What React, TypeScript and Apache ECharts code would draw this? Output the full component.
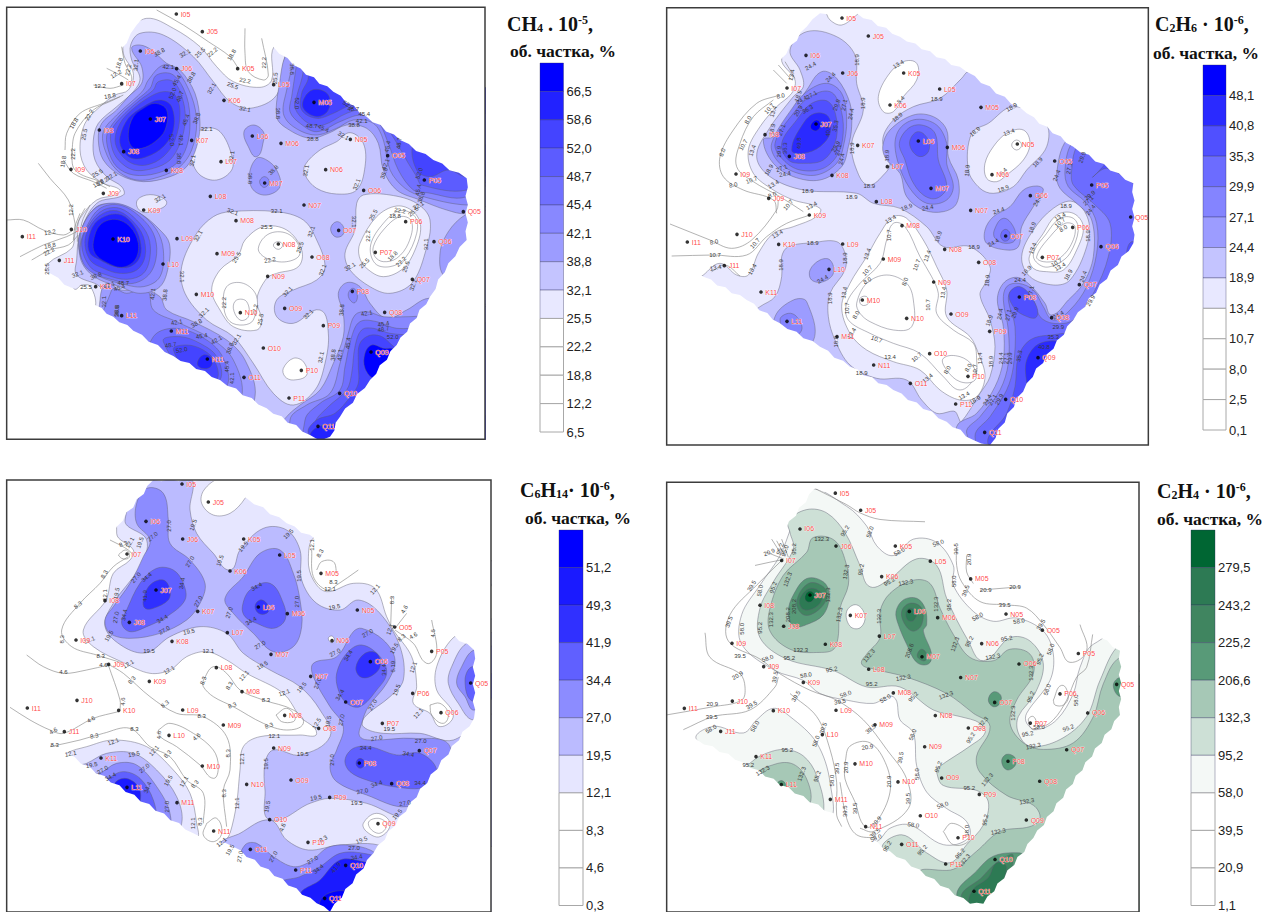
import React, { useEffect, useRef } from "react";
import * as echarts from "echarts";

type Band = [number, number[]];
type Lbl = [string, number, number, number];

const wellNames = ["I05","J05","K05","L05","M05","I06","J06","K06","L06","M06","N05","O05","P05","I07","J07","K07","L07","M07","N06","O06","Q05","I08","J08","K08","L08","N07","P06","I09","J09","K09","M08","N08","O07","Q06","I11","J10","K10","L09","M09","O08","P07","J11","L10","N09","Q07","K11","M10","P08","L11","N10","O09","Q08","P09","M11","O10","Q09","N11","P10","O11","P11","Q10","Q11"];

const ch4Wells = [529,42,607,95,713,206,821,254,942,307,421,153,530,206,672,301,757,408,843,430,1051,418,1163,467,1273,540,365,251,451,357,575,421,663,485,794,549,977,509,1091,571,1390,635,298,390,371,455,499,511,631,589,912,615,1217,665,213,508,310,580,431,630,708,662,835,732,1016,691,1302,725,67,710,214,688,339,717,531,716,651,761,936,771,1126,757,178,781,489,792,803,829,1237,838,287,860,589,883,1057,874,365,947,721,938,854,925,1154,937,970,977,514,993,790,1044,1113,1056,622,1077,904,1111,732,1132,867,1194,1019,1180,954,1279];
const c2h6Wells = [546,54,625,108,731,219,839,267,963,322,438,166,548,219,690,315,775,423,862,442,1072,432,1184,483,1295,555,381,264,468,372,593,436,682,500,813,565,996,524,1111,587,1412,651,315,404,388,469,516,526,649,605,932,631,1238,682,228,522,326,595,448,645,726,677,854,748,1037,708,1323,740,82,726,231,703,356,733,548,732,670,777,956,787,1147,772,193,797,507,808,821,846,1258,854,303,876,607,900,1078,891,381,964,740,955,873,942,1175,953,989,994,531,1010,809,1061,1134,1073,641,1095,924,1129,751,1150,887,1212,1037,1198,974,1297];
const c6h14Wells = [546,42,625,96,731,207,839,255,963,310,438,154,548,207,690,303,775,411,862,431,1072,420,1184,471,1295,544,381,252,468,360,593,424,682,488,813,553,996,512,1111,575,1412,639,315,392,388,457,516,514,649,593,932,619,1238,670,228,510,326,583,448,634,726,665,854,736,1037,696,1323,728,82,714,231,691,356,721,548,720,670,765,956,775,1147,760,193,785,507,796,821,834,1258,842,303,864,607,888,1078,879,381,952,740,943,873,930,1175,941,989,982,531,998,809,1049,1134,1061,641,1083,924,1117,751,1138,887,1200,1037,1186,974,1285];
const c2h4Wells = [526,70,602,122,706,231,811,277,932,331,420,179,528,231,665,324,748,430,833,449,1038,438,1147,487,1255,558,365,275,450,380,571,442,658,505,786,568,965,528,1077,590,1370,652,300,411,371,475,496,530,626,606,902,631,1200,681,216,527,311,598,430,646,700,678,826,747,1004,707,1283,739,73,725,217,703,340,732,528,731,645,775,925,785,1111,770,182,795,487,805,794,842,1220,851,288,872,585,894,1044,886,364,957,714,949,845,937,1139,947,958,987,511,1002,781,1052,1099,1065,617,1085,894,1119,725,1139,857,1199,1005,1185,942,1282];

const ch4Legend = ["66,5","58,6","52,0","48,7","45,4","42,1","38,8","32,1","25,5","22,2","18,8","12,2","6,5"];
const c2h6Legend = ["48,1","40,8","35,3","29,9","27,1","24,4","18,9","13,4","10,7","8,0","2,5","0,1"];
const c6h14Legend = ["51,2","49,3","41,9","34,4","27,0","19,5","12,1","8,3","4,6","0,3"];
const c2h4Legend = ["279,5","243,2","225,2","206,6","132,3","95,2","58,0","39,5","20,9","1,1"];

const ch4Palette = ["#ffffff","#e8e8ff","#c4c4ff","#9c9cff","#8888ff","#7070ff","#5c5cff","#4444ff","#2222ff","#0000ff"];
const c2h6Palette = ["#ffffff","#e8e8ff","#c4c4ff","#9c9cff","#8484ff","#6c6cff","#5050ff","#2a2aff","#0000ff"];
const c6h14Palette = ["#ffffff","#e6e6ff","#bbbbff","#8c8cff","#6060ff","#3030ff","#1a1aff","#0000ff"];
const c2h4Palette = ["#ffffff","#f4f8f6","#cde0d6","#a6c8b6","#589a78","#408560","#2d7a54","#006633"];

const ch4Domain = [465,28,820,140,880,195,1000,275,1100,350,1200,420,1300,480,1400,535,1400,720,1345,790,1290,890,1190,1035,1110,1140,1020,1250,990,1310,960,1322,930,1305,800,1225,660,1140,520,1068,400,992,340,950,285,915,150,820,20,770,20,600,120,490,250,300,380,130,410,75];
const c2h6Domain = [480,40,590,40,720,110,920,215,1100,340,1240,440,1420,550,1420,730,1240,960,1100,1150,990,1335,940,1320,860,1265,700,1170,570,1100,480,1040,360,970,260,900,130,830,30,770,30,670,290,330,360,180,440,80];
const c6h14Domain = [460,30,660,30,740,85,860,160,950,210,1070,300,1250,420,1422,540,1422,745,1120,1150,990,1325,950,1300,700,1130,580,1090,200,850,30,710,350,170];
const c2h4Domain = [465,55,800,155,1000,280,1200,420,1380,550,1380,745,1120,1120,970,1320,930,1320,690,1160,540,1060,250,890,110,820,22,750,22,700,300,280];

const ch4Bands: Band[] = [
[1,[440,55,520,85,600,140,650,200,700,245,780,262,815,240,822,140,900,100,1550,400,1550,1400,800,1400,240,960,285,925,272,860,245,855,225,868,140,830,145,790,215,745,225,700,240,655,290,600,345,585,360,570,310,550,260,510,240,450,255,370,300,320,345,285,385,270,400,220,370,160,380,100]],
[2,[392,135,420,100,490,105,580,170,640,245,690,305,750,325,830,285,855,170,900,100,1550,400,1550,1400,800,1400,330,1000,310,900,300,860,230,825,230,780,240,700,290,610,370,585,365,560,320,530,285,480,280,420,295,370,350,320,400,275,420,235,395,180]],
[1,[570,420,615,385,660,395,695,465,695,510,650,540,600,525,575,480]],
[1,[410,605,440,585,480,590,500,610,470,630,425,635]],
[1,[915,495,960,450,1010,425,1050,398,1090,430,1095,500,1070,570,1010,582,950,565,915,525]],
[1,[1070,610,1090,585,1170,585,1250,610,1290,660,1275,760,1235,850,1170,880,1110,860,1050,810,1035,760,1065,690]],
[0,[1080,730,1130,650,1190,618,1240,635,1262,680,1245,750,1210,805,1150,830,1100,805,1078,770]],
[0,[1112,735,1150,670,1200,632,1245,650,1250,700,1215,775,1170,800,1125,790]],
[0,[1120,740,1150,690,1200,650,1235,665,1225,730,1190,775,1150,785,1125,770]],
[1,[690,635,830,635,910,660,950,720,975,800,950,840,880,870,830,900,830,950,880,970,960,930,985,1000,975,1090,945,1170,880,1215,820,1180,760,1090,700,1010,620,960,555,880,545,800,590,700,640,650]],
[0,[735,720,790,680,860,690,905,750,895,800,830,820,800,835,770,900,785,960,770,990,700,980,660,930,635,870,660,810,715,765]],
[0,[775,745,810,700,870,705,900,760,860,785,800,775]],
[0,[672,925,680,860,730,850,770,890,760,960,730,975,690,965]],
[0,[700,925,710,900,740,905,745,950,720,960]],
[0,[820,735,835,725,848,735,835,748]],
[0,[850,1105,880,1075,910,1085,920,1125,880,1140,855,1130]],
[3,[732,395,760,375,790,395,790,425,770,470,745,440]],
[3,[770,475,800,480,830,510,840,560,800,585,760,570,748,525]],
[4,[780,540,795,530,808,545,795,562,782,555]],
[3,[992,685,1010,665,1030,680,1028,705,1005,710]],
[3,[1285,895,1220,930,1160,955,1110,910,1080,860,1040,848,1015,880,1030,940,1030,1010,1000,1090,960,1170,900,1215,860,1250,830,1300,900,1400,1500,1400,1500,900]],
[4,[1045,880,1060,865,1072,885,1065,908,1050,900]],
[3,[1395,645,1345,695,1320,760,1335,830,1500,900,1500,600]],
[4,[1230,950,1150,950,1100,935,1065,945,1045,1000,1020,1090,990,1180,920,1215,870,1260,900,1400,1500,1400,1500,950]],
[5,[1190,985,1130,965,1080,965,1055,1010,1035,1100,1020,1170,960,1210,915,1260,930,1400,1500,1400,1500,1000]],
[6,[1170,1000,1120,985,1085,990,1065,1040,1055,1120,1040,1170,985,1220,945,1270,950,1400,1500,1400,1500,1050]],
[7,[1160,1020,1115,1005,1080,1030,1075,1090,1075,1150,1055,1185,1005,1240,950,1260,925,1300,1000,1400,1500,1400]],
[8,[930,1305,955,1280,1000,1272,1040,1260,1000,1400,930,1400]],
[9,[1095,1060,1115,1035,1150,1045,1180,1050,1150,1100,1125,1135,1095,1105]],
[3,[855,170,840,240,830,350,860,385,930,415,985,400,1040,375,1100,385,1135,430,1150,510,1190,570,1260,600,1340,630,1400,640,1500,600,1500,300,900,100]],
[4,[880,185,860,270,850,340,880,380,945,405,1010,385,1060,360,1120,370,1150,420,1170,510,1215,565,1270,590,1400,615,1500,600,1500,300,900,100]],
[5,[890,190,875,290,870,335,900,370,950,395,1020,365,1080,345,1130,360,1165,430,1195,510,1240,570,1280,578,1400,590,1500,500,1500,300,900,100]],
[6,[910,210,890,290,885,325,925,370,970,375,1040,340,1090,330,1145,365,1185,420,1225,490,1250,530,1265,555,1400,570,1500,500,1500,300,900,100]],
[7,[925,230,905,280,905,330,950,355,1000,340,1040,320,1100,300,1500,300,900,100]],
[7,[1240,430,1250,510,1290,530,1345,510,1400,530,1500,500,1400,400,1300,380]],
[8,[915,290,945,268,985,285,985,330,950,350,910,325]],
[3,[395,145,420,135,455,150,500,190,540,210,585,280,600,370,590,440,560,500,510,530,430,545,360,525,310,480,295,420,305,370,350,330,385,290,425,250,425,200]],
[4,[445,240,490,195,530,210,575,290,590,370,575,450,540,500,480,530,410,540,350,510,315,450,310,395,350,345,400,300,430,270]],
[5,[470,225,520,225,560,290,570,370,560,440,530,490,470,520,400,525,350,500,325,450,322,400,360,345,410,300,450,265]],
[6,[475,245,520,245,550,305,555,370,540,430,510,480,460,505,400,510,355,480,335,440,335,390,375,340,420,300,460,270]],
[7,[490,275,525,285,540,340,525,420,490,470,440,495,395,490,360,460,345,420,360,370,395,330,450,290]],
[8,[480,300,515,320,520,390,490,440,440,470,395,475,365,445,360,410,385,355,430,320]],
[9,[465,310,500,330,495,390,465,425,425,445,395,440,385,400,400,350,430,325]],
[3,[320,850,360,870,430,870,480,890,500,930,580,965,680,1020,735,1080,765,1190,700,1300,300,1100,300,900]],
[4,[335,870,380,880,440,870,460,930,530,965,640,1020,700,1080,725,1190,650,1300,300,1100]],
[5,[460,1010,530,985,620,1020,670,1075,680,1160,600,1200,450,1100]],
[6,[490,1025,540,1010,600,1030,650,1070,660,1140,600,1160]],
[7,[520,1050,560,1035,610,1050,645,1085,650,1140,600,1150]],
[8,[592,1090,610,1065,635,1075,632,1100,605,1105]],
[3,[240,770,240,700,290,620,350,615,420,640,480,690,508,730,505,800,480,860,420,880,360,860,300,840,260,810]],
[4,[240,760,240,700,285,625,350,610,420,640,470,690,490,750,480,830,430,860,360,850,300,830,260,800]],
[5,[240,740,260,680,300,625,360,615,420,650,460,700,470,760,450,820,400,850,340,840,280,820,250,790]],
[6,[245,730,270,670,310,630,360,625,410,660,445,710,450,770,430,820,380,838,320,825,270,800]],
[7,[255,720,280,665,320,635,360,635,400,665,430,710,435,770,410,810,360,820,310,805,270,780]],
[8,[265,720,285,670,325,645,365,645,400,675,420,720,420,770,390,800,345,800,300,780,270,760]],
[9,[280,725,300,675,345,658,390,680,415,730,405,780,365,802,315,785,285,760]],
];
const ch4Lines: number[][] = [
[470,30,550,75,625,125,690,170,715,205],
[735,85,735,160,745,215,790,240,805,225,785,115],
[365,140,375,190,395,230,390,260],
[320,205,360,225,385,240],
[280,255,330,265,370,255],
[195,450,200,400,240,340,310,310,360,290],
[190,480,220,520,280,545,320,565],
[215,470,225,400,280,330,340,300,370,285],
[215,450,225,510,300,545,330,560],
[115,490,150,535,205,600,225,670,225,690],
[20,660,70,660,130,690,190,705,220,690],
[60,770,130,735,200,710,230,695],
[95,780,150,750,205,735,235,705],
[240,640,225,680,220,720],
[255,625,235,665,232,725],
[270,615,245,670,240,740],
];
const ch4Labels: Lbl[] = [["32.1",555,160,-30],["25.5",600,158,-45],["22.2",637,157,-40],["18.8",695,165,-60],["22.2",793,188,-90],["25.5",826,235,-85],["22.2",735,242,10],["25.5",698,257,20],["32.1",635,265,-60],["32.1",735,327,10],["38.8",835,340,90],["52.0",890,310,90],["38.8",875,207,90],["38.8",590,355,-70],["45.4",558,360,-70],["52.0",515,420,85],["42.1",543,420,90],["38.8",537,475,90],["32.1",620,388,0],["32.1",695,470,-80],["32.1",578,482,-80],["38.8",820,510,-45],["38.8",750,535,90],["38.8",938,418,0],["45.4",970,385,25],["48.7",935,377,0],["38.8",1062,375,0],["42.1",1085,362,0],["45.4",1093,343,0],["48.7",1060,328,0],["52.0",1045,315,30],["32.1",1030,407,30],["32.1",918,512,-80],["32.1",1070,553,-70],["38.8",1152,520,-70],["42.1",1157,493,-70],["45.4",1163,440,-80],["48.7",1197,430,-85],["52.0",1258,520,-70],["45.4",1255,570,-80],["38.8",1264,592,-70],["32.1",1255,617,-30],["32.1",1062,665,90],["25.5",1120,645,-60],["22.2",1200,632,10],["25.5",1240,635,-40],["18.8",1185,648,0],["22.2",1104,708,-90],["25.5",1093,790,-45],["18.8",1178,768,-45],["22.2",1203,785,-45],["25.5",1218,800,-70],["32.1",1050,800,-30],["32.1",1277,733,-90],["32.1",1240,855,-70],["32.1",698,635,20],["32.1",830,633,0],["25.5",800,682,0],["25.5",900,742,-70],["22.2",810,780,-10],["32.1",934,695,-70],["32.1",968,810,-70],["32.1",863,875,-45],["25.5",710,772,-60],["32.1",595,708,-60],["32.1",547,830,90],["22.2",672,908,-90],["22.2",765,930,-80],["25.5",782,958,-80],["32.1",612,938,-45],["32.1",925,943,-45],["32.1",710,1018,-60],["32.1",963,1072,-80],["38.8",1025,930,-85],["42.1",1100,940,-10],["45.4",1150,972,-10],["48.7",1150,988,-10],["52.0",1178,1010,0],["38.8",1000,1065,-85],["42.1",1020,1065,-85],["45.4",1045,1030,-85],["42.1",458,882,-85],["38.8",495,885,-85],["38.8",350,932,-85],["42.1",530,967,-10],["38.8",590,970,-30],["45.4",605,1008,-10],["42.1",650,1020,-30],["38.8",690,1045,-70],["45.4",680,1100,-90],["42.1",697,1135,-90],["52.0",545,1050,-10],["48.7",512,1035,-10],["18.8",358,190,-70],["22.2",385,210,-80],["32.1",408,195,-85],["12.2",348,222,-30],["12.2",300,257,0],["18.8",330,288,-10],["18.8",222,370,-60],["22.2",268,345,-60],["25.5",253,403,-80],["22.2",220,462,-90],["18.8",190,485,-80],["25.5",292,520,-30],["22.2",308,545,-30],["18.8",295,550,-30],["32.1",335,528,-30],["12.2",213,630,-90],["12.2",150,697,-10],["18.8",150,737,-10],["22.2",147,755,-30],["25.5",142,807,-90],["32.1",233,822,-20],["25.5",258,860,0],["38.8",288,828,-20],["42.1",328,855,-20],["45.4",358,863,-20],["48.7",370,850,0],["32.1",312,905,-90],["38.8",350,935,-90],["32.1",480,595,-30],["42.1",505,200,0],["45.4",530,242,-60],["52.0",518,280,-70],["48.7",540,290,-70],["38.8",574,232,-60],["38.8",478,157,-30]];

const c2h6Bands: Band[] = [
[1,[440,30,490,30,510,60,545,75,590,45,620,20,1600,400,1600,1500,800,1500,100,850,130,825,180,790,230,825,265,825,295,760,340,700,400,680,470,650,480,625,400,600,340,570,280,520,265,450,300,380,350,320,395,280,405,240,365,175]],
[0,[655,290,685,225,730,185,770,190,770,240,730,290,700,335,670,335]],
[2,[390,150,440,95,530,110,585,165,590,250,610,330,575,430,590,510,625,555,675,520,690,490,668,420,700,360,760,320,840,295,905,235,925,215,1100,200,1600,400,1600,1500,900,1500,860,1290,900,1270,960,1180,990,1130,1005,1040,990,960,960,885,975,850,990,800,930,740,850,740,800,680,720,625,640,610,590,580,430,570,330,530,290,470,325,390,400,290,430,260,420,210]],
[1,[935,400,985,370,1060,320,1155,365,1160,440,1100,510,1060,560,1000,580,960,565,925,510]],
[0,[975,490,1000,440,1040,400,1090,390,1110,430,1090,480,1040,525,1010,545,980,535]],
[0,[1055,435,1070,420,1085,435,1070,450]],
[1,[1085,770,1120,690,1180,625,1240,605,1285,660,1280,740,1230,840,1180,855,1110,830]],
[0,[1108,770,1150,700,1190,645,1240,640,1270,680,1250,750,1210,810,1160,815,1120,805]],
[0,[1120,765,1160,700,1200,655,1240,655,1255,690,1230,760,1195,790,1150,800]],
[0,[1130,770,1170,710,1215,670,1245,680,1230,740,1190,780,1150,785]],
[2,[365,770,385,740,460,728,530,725,555,760,555,810,510,880,505,950,525,1020,570,1095,650,1135,740,1140,785,1200,830,1240,890,1240,900,1400,600,1400,200,1000,300,920,345,890,365,830]],
[0,[660,700,700,650,740,655,790,720,830,800,860,870,860,950,930,1010,955,1060,975,1130,950,1190,900,1200,840,1170,780,1110,700,1085,620,1050,570,1000,545,920,570,850,620,770]],
[0,[600,850,660,790,680,720,700,670,735,680,780,770,815,830,835,880,830,940,880,990,940,1030,950,1080,945,1130,900,1170,850,1130,780,1060,700,1030,630,1000,565,960,560,910]],
[0,[590,910,620,850,680,825,740,850,760,900,755,980,700,990,630,965,600,940]],
[0,[850,1075,900,1070,940,1100,945,1140,900,1145,860,1110]],
[0,[600,895,620,890,625,910,605,915]],
[3,[450,810,480,780,510,780,520,820,490,845,455,840]],
[3,[345,950,400,900,440,905,455,1030,350,1030]],
[4,[360,960,385,940,410,950,425,990,390,1010]],
[3,[975,690,1000,650,1050,620,1090,570,1130,558,1150,570,1120,620,1085,680,1075,740,1040,750,980,730]],
[4,[1003,690,1030,655,1060,680,1065,720,1035,730,1005,715]],
[5,[1022,705,1035,688,1050,700,1045,720,1030,722]],
[3,[668,440,690,390,760,345,820,350,860,390,865,470,895,540,890,610,850,635,790,630,740,590,720,520,680,480]],
[4,[705,440,720,385,770,358,830,375,860,430,860,490,880,560,860,600,810,612,770,590,730,530]],
[5,[718,430,745,385,785,375,825,400,835,480,860,560,830,595,790,585,755,540,735,480]],
[6,[750,420,775,395,805,420,805,455,780,470,755,450]],
[3,[340,410,420,300,440,270,485,215,530,235,570,310,575,380,565,440,545,500,480,540,400,530,340,490,310,420]],
[4,[335,430,400,320,440,275,500,250,545,280,560,360,550,440,530,490,470,525,400,515,350,480]],
[5,[345,430,400,340,450,290,510,275,540,320,550,390,535,460,490,505,420,510,370,480]],
[6,[365,430,410,360,455,310,505,305,530,360,525,430,490,480,430,490,385,480]],
[7,[395,450,430,370,465,340,505,350,510,400,480,440,430,460]],
[8,[452,375,470,360,482,375,470,392,455,388]],
[3,[1220,420,1190,520,1200,565,1250,610,1295,660,1300,770,1270,850,1225,900,1175,945,1155,910,1110,855,1070,832,1030,850,1012,900,1030,980,1030,1080,1005,1160,950,1240,890,1280,900,1400,1500,1400,1600,1000,1600,500,1300,380]],
[4,[1235,430,1215,510,1225,560,1280,610,1310,670,1310,760,1280,860,1230,930,1180,960,1150,920,1120,870,1075,850,1040,860,1030,900,1045,990,1045,1090,1020,1170,960,1250,920,1300,1000,1400,1500,1400,1600,1000,1600,500,1300,380]],
[5,[1250,440,1235,510,1240,555,1300,610,1350,670,1345,770,1300,880,1240,960,1180,970,1140,950,1120,900,1085,865,1055,870,1045,900,1065,980,1060,1100,1040,1170,990,1250,945,1310,1000,1400,1500,1400,1600,1000,1600,500,1300,390]],
[6,[1300,530,1340,505,1420,550,1500,600,1500,500,1400,450]],
[6,[1240,1010,1175,1005,1110,1020,1075,1070,1065,1160,1040,1240,985,1335,1100,1400,1300,1200]],
[7,[1215,1030,1140,1030,1100,1080,1100,1150,1110,1190,1300,1100]],
[6,[1420,725,1400,760,1420,780,1500,780]],
[6,[1048,880,1080,860,1120,900,1130,950,1090,945,1060,920]],
];
const c2h6Lines: number[][] = [
[30,672,150,720,215,745,275,720,350,630,355,600],
[35,768,160,765,260,765,320,710,380,670,450,645],
[360,285,290,310,220,390,180,470,190,530,250,570,340,600,350,640],
[340,300,280,350,240,430,230,500,280,545,360,590,430,635],
[340,210,380,250],
[355,195,395,240],
[375,185,405,235],
[155,815,195,795,240,828],
];
const c2h6Labels: Lbl[] = [["18.9",590,180,-90],["18.9",608,310,-90],["24.4",452,198,-30],["24.4",512,232,-45],["13.4",715,193,-30],["8.4",722,300,-45],["18.9",830,298,0],["18.9",712,352,-40],["18.9",1055,322,-30],["18.9",945,395,-40],["13.4",1047,397,-20],["8.4",1030,515,-45],["18.9",1133,487,-45],["18.9",922,512,-85],["18.9",1030,566,-20],["24.4",1190,527,-70],["27.1",1228,505,-80],["29.9",1267,472,-70],["29.9",1290,586,-40],["27.1",1285,602,-40],["24.4",1292,630,-50],["18.9",1218,617,0],["13.4",1200,650,-30],["10.7",1200,668,-40],["8.0",1210,685,-30],["18.9",1117,683,-70],["13.4",1118,745,-70],["18.9",1283,708,-90],["13.4",1200,800,-30],["10.7",1190,788,-30],["18.9",1100,812,-45],["18.9",1225,825,-60],["24.4",1270,830,-70],["29.9",1292,902,-60],["24.4",1195,945,-30],["29.9",1195,980,0],["35.3",1180,1012,0],["40.8",1152,1040,0],["24.4",1080,840,0],["27.1",1113,875,-80],["29.9",1065,938,-70],["27.1",1045,945,-80],["24.4",1020,942,-80],["18.9",988,962,-70],["18.9",982,842,-85],["18.9",942,742,0],["18.9",835,710,-70],["24.4",1000,728,-30],["24.4",1016,632,-20],["24.4",1133,603,-60],["24.4",803,623,-10],["18.9",740,622,-20],["18.9",628,558,0],["18.9",680,467,-90],["18.9",575,445,-90],["18.9",575,590,0],["18.9",443,574,0],["18.9",327,510,-60],["24.4",375,522,-10],["27.1",365,505,-20],["24.4",545,477,-80],["27.1",535,450,-80],["29.9",528,440,-60],["35.3",527,378,-80],["24.4",573,342,-80],["27.1",553,315,-80],["29.9",530,315,-70],["49.8",417,430,-90],["40.8",503,393,-90],["36.3",375,445,-90],["29.9",357,455,-90],["27.1",365,390,-70],["20.9",415,333,-60],["36.3",443,328,-30],["27.1",455,285,-30],["24.4",425,300,-30],["18.9",415,288,-70],["13.4",395,225,-80],["8.0",362,288,-10],["10.7",328,326,-50],["13.4",340,335,-70],["8.0",264,360,-60],["10.7",250,435,-60],["13.4",277,452,-70],["8.0",187,457,-70],["18.9",337,388,-80],["10.7",275,540,-20],["8.0",220,555,-10],["13.4",340,553,-30],["8.0",337,585,-20],["10.7",385,615,-50],["13.4",455,617,-30],["13.4",352,702,-30],["18.9",458,730,0],["10.7",285,730,-50],["8.0",162,726,-10],["10.7",165,765,0],["13.4",167,803,-10],["13.4",277,808,-60],["18.9",363,795,-90],["18.9",555,775,-90],["24.4",488,838,-30],["18.9",510,895,-90],["13.4",692,658,-30],["10.7",686,706,-90],["13.4",622,762,-70],["10.7",770,795,-70],["13.4",802,768,-70],["10.7",622,812,-45],["8.0",622,842,-30],["8.0",735,845,-70],["13.4",850,878,-80],["10.7",805,915,-90],["13.4",553,878,-80],["10.7",562,925,-90],["8.0",588,945,-60],["13.4",575,1000,-60],["10.7",650,1018,20],["18.9",527,1025,-90],["13.4",690,1070,0],["10.7",770,1072,-40],["13.4",803,1135,-40],["18.9",605,1118,0],["13.4",912,1187,-30],["18.9",945,1200,-30],["13.4",960,1075,-90],["10.7",945,1110,-90],["8.0",925,1103,-60],["8.0",862,1110,-60],["18.9",993,1085,-90],["24.4",1022,1075,-90],["27.1",1037,1075,-90],["29.9",1050,1075,-90],["35.3",1078,1068,-80],["24.4",982,1200,-60],["27.1",998,1200,-60],["29.9",1018,1198,-60]];

const c6h14Bands: Band[] = [
[1,[350,190,400,240,390,270,340,310,318,390,250,480,280,530,375,580,450,610,510,600,560,560,620,545,680,570,740,610,850,670,900,740,950,790,900,795,780,800,730,830,720,900,710,1000,690,1090,670,1130,700,1400,1500,1400,1550,400,1000,0,400,0]],
[1,[200,850,260,830,340,810,440,830,520,900,570,970,590,1060,590,1110,500,1150,150,900]],
[0,[945,200,925,270,940,330,980,365,1060,340,1125,355,1160,440,1180,480,1235,560,1250,650,1240,700,1290,730,1320,770,1360,735,1310,660,1310,590,1358,505,1500,400,1200,100]],
[0,[660,25,612,60,605,100,640,135,690,130,735,85,760,25]],
[2,[460,20,570,20,570,120,590,190,640,250,690,300,720,240,790,175,860,180,900,240,905,330,950,400,1020,420,1075,390,1140,430,1200,530,1210,630,1170,680,1095,740,1090,770,1150,790,1260,790,1360,810,1550,700,1550,1100,1210,1045,1100,1000,990,985,930,1000,810,1050,795,960,795,880,820,840,900,855,990,800,960,720,900,650,810,600,730,550,680,490,600,470,510,500,440,548,370,530,315,470,340,400,420,290,440,210,375,150]],
[2,[810,1050,860,1110,925,1140,1020,1125,1150,1130,1200,1200,1000,1400,800,1400,660,1130,720,1090]],
[2,[1400,520,1355,590,1345,640,1375,700,1422,750,1500,700,1500,500]],
[3,[1422,540,1385,590,1370,640,1395,680,1424,720,1500,650,1500,540]],
[4,[1422,590,1395,630,1422,695,1500,650]],
[2,[260,880,320,850,400,850,470,900,530,980,545,1060,500,1130,200,900]],
[3,[295,910,350,880,410,885,470,950,510,1030,500,1100,250,900]],
[4,[325,925,370,905,420,925,460,990,460,1040,300,950]],
[6,[345,945,375,925,415,950,420,995,400,1010]],
[3,[720,1180,735,1125,770,1120,820,1160,880,1190,930,1175,990,1130,1080,1130,1140,1160,1200,1250,1000,1400,800,1300]],
[4,[830,1245,900,1220,960,1190,1020,1150,1090,1150,1130,1170,1050,1300,980,1400,850,1300]],
[6,[900,1280,960,1230,1020,1170,1090,1175,1110,1185,1040,1300,980,1400]],
[7,[955,1320,965,1285,1000,1265,1040,1270,1020,1320,1000,1400,950,1400]],
[3,[410,100,440,55,490,70,505,150,510,220,570,270,615,340,600,400,560,450,480,490,390,505,330,490,315,450,340,410,390,340,430,260,450,210,410,160]],
[4,[380,420,420,340,470,295,520,300,550,340,555,390,500,440,440,470,390,485,365,460]],
[5,[430,390,450,345,490,330,510,360,505,390,460,415,435,415]],
[3,[675,385,730,320,780,250,840,240,880,310,900,390,905,470,880,530,820,545,760,490,700,430]],
[4,[727,410,750,360,810,340,850,400,855,450,820,475,770,460,735,440]],
[5,[765,410,780,390,800,400,805,425,780,432]],
[3,[940,580,1010,560,1060,485,1085,475,1150,510,1185,570,1160,640,1105,710,1085,760,1080,800,1120,810,1240,805,1350,830,1300,950,1220,1010,1100,975,1010,935,990,890,1010,840,1030,770,990,710,940,620]],
[4,[1010,610,1040,550,1085,525,1140,560,1160,610,1130,660,1080,710,1040,700,1015,660]],
[5,[1068,590,1095,550,1130,550,1140,590,1110,620,1080,620]],
[4,[1035,870,1060,835,1110,830,1190,855,1260,850,1310,900,1280,950,1180,950,1100,930,1050,905]],
[5,[1068,880,1080,865,1095,880,1080,895]],
[0,[985,505,995,498,1003,508,995,518]],
[0,[1090,1060,1130,1030,1170,1060,1140,1100,1100,1085]],
[0,[1105,1060,1135,1045,1160,1065,1135,1090]],
];
const c6h14Lines: number[][] = [
[355,255,375,240,388,250,385,265,365,265,355,255],
[330,210,360,225,385,240,400,255],
[385,260,340,290,300,340,240,400,185,480,215,530,290,555,370,580],
[320,580,370,610,450,680,530,730,610,740,680,800,690,900,670,960,680,1070],
[80,555,130,590,190,610,260,600,325,585],
[325,585,360,690,360,722],
[30,712,90,750,150,780,190,790,280,745,355,725],
[150,830,240,810,310,790,390,775,450,830,510,860,560,930,610,970,610,1060],
[475,780,510,760,580,790,640,840,655,890,640,925,600,885,530,830,480,800,475,780],
[610,630,640,590,680,610,720,660,790,690,880,720,910,760,860,780,790,760,700,710,640,680,610,650,610,630],
[828,735,860,715,885,740,880,755,845,755,828,735],
[620,1060,650,1045,665,1090,640,1115,610,1095,620,1060],
[935,240,940,320,980,360,1010,345,1075,300],
[950,300,965,275,1000,275,1010,310],
[1290,705,1320,700,1345,730,1330,760,1295,735,1290,705],
[1175,380,1172,470],
[1220,430,1185,475],
[1185,480,1240,520,1280,580,1310,550,1295,450],
];
const c6h14Labels: Lbl[] = [["19.5",580,165,-70],["27.0",507,168,-90],["27.0",458,200,-40],["19.5",420,218,-70],["12.1",390,218,-60],["8.3",370,222,-20],["27.0",570,275,-60],["19.5",660,272,-70],["19.5",730,230,-50],["19.5",865,192,-45],["12.1",937,225,-90],["8.3",960,250,-60],["8.3",1000,335,0],["12.1",990,357,0],["12.1",1125,358,-50],["19.5",897,318,-90],["27.0",890,395,-90],["19.5",1003,411,-10],["8.3",1175,390,-90],["4.6",1213,418,-60],["12.1",1170,478,-70],["8.3",1205,503,-40],["4.6",1240,497,-30],["4.6",1300,490,-90],["19.5",1183,535,-60],["12.1",1240,592,-70],["27.0",1103,490,-30],["27.0",1005,548,-30],["34.4",1045,557,-60],["34.4",1152,600,-90],["6.19",1178,590,-90],["27.0",953,640,-70],["34.4",1020,675,-60],["27.0",1118,705,-60],["19.5",1190,660,-70],["27.0",1025,750,-80],["19.5",985,755,-80],["12.5",950,760,-60],["12.1",1255,730,-50],["19.5",1168,778,0],["27.0",1130,805,-10],["27.0",1262,813,0],["34.4",1097,833,0],["34.4",1225,852,10],["34.4",1130,942,-20],["34.4",1260,938,0],["27.0",1087,964,-10],["27.0",1215,1000,-10],["19.5",1070,998,0],["19.5",1192,1033,-50],["19.5",948,983,-10],["19.5",1085,1110,-20],["27.0",1062,1133,0],["34.4",1070,1162,-10],["41.9",1008,1193,-50],["34.4",955,1197,-40],["27.0",938,1170,-30],["27.0",820,1160,-60],["27.0",720,1160,-80],["19.5",690,1140,-60],["12.1",665,1117,-40],["4.6",848,1072,-70],["8.3",970,1107,-30],["19.5",802,1010,-80],["19.5",798,882,-90],["12.1",727,867,-90],["12.1",823,797,0],["19.5",908,853,0],["27.0",997,870,-90],["8.3",685,850,-90],["8.3",672,970,-90],["12.1",710,1000,-90],["8.3",600,1055,-90],["12.1",578,1060,-90],["8.3",585,942,-50],["12.1",552,935,-60],["19.5",505,932,-60],["27.0",502,1010,-90],["34.4",443,953,-70],["27.0",433,895,-40],["19.5",402,853,-10],["12.1",462,842,-50],["8.3",503,852,-50],["12.1",340,815,-20],["27.0",308,900,-30],["34.4",332,920,-30],["19.5",275,885,-10],["12.1",212,851,-10],["8.3",164,826,0],["8.3",283,798,-10],["8.3",403,778,0],["4.6",273,748,-30],["4.6",160,783,-30],["4.6",370,695,-90],["4.6",478,795,-90],["4.6",590,800,-40],["8.3",807,767,-20],["8.3",697,706,-20],["8.3",798,690,0],["12.1",853,668,-20],["12.1",732,617,-50],["8.3",688,647,-60],["8.3",610,632,-70],["8.3",605,738,0],["8.3",495,702,-40],["8.3",396,630,-50],["12.1",385,582,-30],["12.1",507,600,-30],["12.1",625,544,0],["19.5",447,544,0],["19.5",327,498,-60],["27.0",493,481,-30],["19.5",567,485,-10],["27.0",348,442,-80],["34.4",373,435,-80],["34.4",487,447,-30],["41.9",434,378,-90],["34.4",440,322,-40],["27.0",408,323,-50],["19.5",350,370,-80],["12.1",316,375,-90],["8.3",313,313,-60],["8.3",234,405,-40],["8.3",186,508,-90],["12.1",268,510,-20],["8.3",302,557,0],["4.6",190,606,0],["4.6",310,584,0],["27.0",595,394,-60],["34.4",546,340,-80],["27.0",688,428,-70],["27.0",780,525,-30],["19.5",787,586,-30],["19.5",905,652,-50],["34.4",753,453,-30],["34.4",770,350,-30]];

const c2h4Bands: Band[] = [
[1,[440,60,560,110,620,170,650,230,700,260,760,210,830,220,880,290,880,350,940,430,1000,460,1070,450,1150,490,1180,560,1170,640,1100,740,1100,770,1130,790,1190,760,1240,680,1260,600,1300,530,1600,400,1600,1500,700,1500,600,1120,650,1130,690,1090,750,1080,850,1140,925,1120,920,1070,860,1030,800,980,770,900,760,800,720,760,700,690,640,710,560,700,480,680,430,640,345,610,245,530,245,440,300,350,360,260,395,170]],
[1,[340,725,390,750,470,830,510,950,500,1060,250,900,110,820,160,780,250,800,290,760]],
[2,[385,155,440,120,500,130,555,190,600,290,630,355,690,330,770,270,830,290,860,390,925,520,970,580,1050,510,1110,520,1150,590,1125,680,1075,750,1075,800,1110,840,1200,820,1280,750,1320,640,1380,530,1600,400,1600,1500,1100,1500,670,1155,725,1110,800,1165,870,1195,920,1140,970,1080,985,1010,950,975,850,960,830,920,835,905,930,840,975,800,960,770,900,750,820,730,720,660,620,660,520,610,380,575,300,510,300,420,340,340,400,240,390,190]],
[2,[255,900,300,870,370,850,430,870,470,930,490,1045,440,1100,200,900]],
[3,[295,930,345,895,400,895,440,940,450,1015,400,1050]],
[4,[350,955,365,945,378,958,378,978,350,970]],
[3,[460,205,525,215,560,290,565,350,540,420,525,540,470,555,390,545,330,490,330,420,370,320,440,250]],
[0,[560,430,590,410,615,445,600,480,570,475]],
[3,[660,430,690,375,760,335,810,345,840,420,880,500,930,570,1000,580,1050,545,1110,560,1120,620,1070,700,1050,770,1090,830,1150,850,1240,830,1300,750,1330,650,1380,570,1600,500,1600,1500,1000,1500,780,1230,880,1215,950,1160,1020,1100,1110,1085,1140,1060,1120,1020,1040,990,960,920,950,870,990,780,940,740,860,680,740,630,640,605,605,590,620,560,660,510]],
[4,[708,430,730,395,770,390,795,420,800,470,790,490,815,560,805,590,770,585,740,530,715,470]],
[5,[725,430,750,405,785,420,785,470,760,490,735,470]],
[6,[738,432,750,420,770,432,760,458,742,455]],
[5,[772,560,785,545,800,560,795,580,775,572]],
[4,[385,430,400,380,440,330,490,340,508,380,490,440,440,470,400,475]],
[5,[410,400,445,345,490,355,500,390,470,430,430,440]],
[6,[420,390,450,360,485,375,480,405,450,425,425,420]],
[7,[436,380,450,368,464,380,455,400,438,398]],
[4,[985,700,1000,675,1022,685,1020,710,1000,720]],
[4,[1025,885,1040,865,1065,875,1065,900,1040,912]],
[4,[1382,630,1360,655,1382,690,1500,690,1500,630]],
[4,[890,1295,950,1220,1000,1175,1075,1165,1100,1180,1000,1300,950,1400]],
[5,[905,1305,965,1240,1010,1195,1060,1175,1000,1350]],
[6,[925,1320,940,1275,985,1240,1010,1195,1040,1210,1000,1320,950,1400]],
];
const c2h4Lines: number[][] = [
[467,57,560,105,600,130,660,150,795,157],
[890,230,890,290,905,340,960,400,1040,410,1100,420,1150,470,1200,540,1230,585,1280,550,1260,470],
[920,260,920,310,940,345],
[960,365,1080,355],
[1298,500,1280,600,1250,630,1220,700,1180,760,1140,780,1120,750,1105,760,1120,790,1150,770],
[370,270,290,350,210,440,205,520,300,575,360,620,450,670,530,700,610,760,680,850,740,940,745,1030,640,1100,600,1090],
[135,495,150,570,240,620,255,660,245,700,160,720,20,745],
[70,790,160,750,270,730,345,660,355,630],
[390,680,470,750,510,850,530,950,530,1050,545,1085],
[555,890,570,840,630,830,680,900,690,980,650,1070,615,1085,585,1010,555,940,555,890],
[540,950,560,1060,590,1110,650,1120],
[850,1100,875,1075,920,1100,925,1130,880,1140,850,1100],
[1180,700,1205,655,1225,690,1210,715,1185,715,1180,700],
[335,210,360,250],
[350,215,375,262],
[365,210,385,265],
[285,290,330,280,370,272],
[320,250,370,270],
];
const c2h4Labels: Lbl[] = [["95.2",555,185,-60],["58.0",630,188,-70],["132.3",485,208,0],["95.2",603,303,-80],["132.3",558,310,-80],["58.0",718,248,-30],["58.0",835,222,-20],["39.5",888,240,-90],["20.9",927,272,-90],["58.0",882,338,-90],["95.2",866,410,-90],["132.3",827,408,-90],["132.3",737,342,-10],["95.2",688,340,-30],["39.5",917,367,-70],["20.9",977,365,0],["20.9",1065,357,0],["39.5",1034,411,0],["58.0",953,446,-30],["58.0",1077,460,-10],["39.5",1143,470,-60],["58.0",1172,545,-70],["95.2",1140,575,-70],["95.2",1040,513,-10],["95.2",928,522,-60],["132.3",998,568,-10],["132.3",885,530,-70],["132.3",658,445,-90],["132.3",538,440,-80],["132.3",627,565,-50],["132.3",422,547,0],["95.2",388,572,0],["95.2",515,607,-10],["95.2",635,652,0],["132.3",730,632,-10],["132.3",858,685,-20],["58.0",323,573,-20],["39.5",240,565,0],["20.9",233,625,-30],["58.0",438,624,-10],["58.0",557,682,-20],["39.5",540,705,-10],["58.0",676,695,-30],["95.2",760,690,-50],["39.5",275,352,-60],["58.0",300,367,-80],["95.2",340,357,-70],["132.3",383,333,-70],["20.9",328,250,-20],["95.2",403,240,-90],["95.2",360,240,-70],["95.0",375,245,-70],["39.5",207,462,-70],["58.0",247,483,-90],["95.2",300,480,-90],["132.3",332,455,-90],["208.2",402,415,-90],["208.2",384,440,-90],["132.3",503,380,-90],["208.6",748,550,-70],["39.5",345,630,-80],["39.5",275,715,-30],["20.9",157,711,0],["39.5",155,752,0],["58.0",153,788,-30],["58.0",285,780,-60],["39.5",408,688,-60],["58.0",468,825,-70],["39.5",490,785,-70],["95.2",382,851,0],["95.2",265,898,0],["132.3",308,915,-30],["132.3",425,925,-70],["95.2",472,932,-70],["58.0",517,945,-90],["39.5",532,908,-90],["39.5",555,1038,-90],["39.5",585,1030,-90],["20.9",558,905,-90],["20.9",622,843,-10],["20.9",686,948,-90],["39.5",722,875,-80],["39.5",744,1000,-90],["58.0",770,925,-90],["58.0",758,805,-70],["39.5",632,788,-40],["20.9",650,1070,-50],["58.0",648,1120,-20],["39.5",645,1105,-40],["58.0",760,1080,10],["95.2",682,1145,-60],["95.2",787,1157,-50],["95.2",900,1167,-50],["132.3",913,1188,-50],["132.3",1015,1100,-10],["58.0",921,1098,-90],["95.2",976,1065,-80],["58.0",848,1020,-20],["95.2",928,968,0],["95.2",835,903,-70],["132.3",982,942,-50],["132.3",1100,1008,-10],["95.2",932,815,-60],["132.3",967,770,-50],["132.3",1120,840,-10],["95.2",1103,803,-10],["95.2",1225,785,-20],["132.3",1060,740,-90],["95.2",1112,690,-70],["132.3",1113,618,-90],["58.0",1162,668,-70],["58.0",1248,700,-90],["58.0",1137,783,0]];

function chain(flat: number[], api: any) {
  const pts: number[][] = [];
  for (let i = 0; i < flat.length; i += 2) pts.push(api.coord([flat[i], flat[i + 1]]));
  return pts;
}

function splinePath(pts: number[][], closed: boolean) {
  const n = pts.length;
  const at = (i: number) => (closed ? pts[(i + n) % n] : pts[Math.max(0, Math.min(n - 1, i))]);
  const unit = (a: number[], b: number[]) => {
    const dx = b[0] - a[0];
    const dy = b[1] - a[1];
    const l = Math.hypot(dx, dy) || 1;
    return [dx / l, dy / l];
  };
  let d = `M${pts[0][0]} ${pts[0][1]}`;
  const last = closed ? n : n - 1;
  for (let i = 0; i < last; i++) {
    const p1 = at(i);
    const p2 = at(i + 1);
    const len = Math.hypot(p2[0] - p1[0], p2[1] - p1[1]) / 3;
    const t1 = unit(at(i - 1), p2);
    const t2 = unit(p1, at(i + 2));
    d += `C${p1[0] + t1[0] * len} ${p1[1] + t1[1] * len} ${p2[0] - t2[0] * len} ${p2[1] - t2[1] * len} ${p2[0]} ${p2[1]}`;
  }
  return closed ? d + "Z" : d;
}

function scalloped(flat: number[]) {
  const out: number[] = [];
  const n = flat.length / 2;
  let flip = 1;
  for (let i = 0; i < n; i++) {
    const ax = flat[i * 2];
    const ay = flat[i * 2 + 1];
    const bx = flat[((i + 1) % n) * 2];
    const by = flat[((i + 1) % n) * 2 + 1];
    const len = Math.hypot(bx - ax, by - ay);
    const steps = Math.max(1, Math.round(len / 26));
    for (let s = 0; s < steps; s++) {
      const t = s / steps;
      flip = -flip;
      const amp = s === 0 ? 0 : 3.5;
      out.push(ax + (bx - ax) * t + (-(by - ay) / len) * amp * flip, ay + (by - ay) * t + ((bx - ax) / len) * amp * flip);
    }
  }
  return out;
}

const panels = [
  { wells: ch4Wells, bands: ch4Bands, lines: ch4Lines, labels: ch4Labels, palette: ch4Palette, domain: ch4Domain, legend: ch4Legend,
    crop: [0, 0], ext: [20, 1455, 22, 1318], bar: [540, 63, 23.5, 369],
    title: "{b|CH}{s|4}{b| . 10}{u|-5}{b|,}", titleAt: [507, 14], subAt: [510, 42] },
  { wells: c2h6Wells, bands: c2h6Bands, lines: c2h6Lines, labels: c2h6Labels, palette: c2h6Palette, domain: c2h6Domain, legend: c2h6Legend,
    crop: [660, 0], ext: [20, 1465, 23, 1335], bar: [1203, 65, 23, 365],
    title: "{b|C}{s|2}{b|H}{s|6}{b| · 10}{u|-6}{b|,}", titleAt: [1155, 14], subAt: [1153, 44] },
  { wells: c6h14Wells, bands: c6h14Bands, lines: c6h14Lines, labels: c6h14Labels, palette: c6h14Palette, domain: c6h14Domain, legend: c6h14Legend,
    crop: [0, 470], ext: [20, 1473, 30, 1326], bar: [559, 530, 24, 376],
    title: "{b|C}{s|6}{b|H}{s|14}{b|· 10}{u|-6}{b|,}", titleAt: [520, 480], subAt: [525, 509] },
  { wells: c2h4Wells, bands: c2h4Bands, lines: c2h4Lines, labels: c2h4Labels, palette: c2h4Palette, domain: c2h4Domain, legend: c2h4Legend,
    crop: [660, 470], ext: [20, 1437, 37, 1345], bar: [1191, 530, 24, 377],
    title: "{b|C}{s|2}{b|H}{s|4}{b| · 10}{u|-6}{b|,}", titleAt: [1157, 481], subAt: [1157, 510] },
];

function buildOption() {
  const grid: any[] = [];
  const xAxis: any[] = [];
  const yAxis: any[] = [];
  const series: any[] = [];
  const graphic: any[] = [];
  const rich = {
    b: { fontFamily: "Liberation Serif", fontWeight: "bold", fontSize: 20, color: "#111" },
    s: { fontFamily: "Liberation Serif", fontWeight: "bold", fontSize: 12, verticalAlign: "bottom", color: "#111", padding: [8, 0, 0, 0] },
    u: { fontFamily: "Liberation Serif", fontWeight: "bold", fontSize: 12, verticalAlign: "top", color: "#111", padding: [0, 0, 6, 0] },
  };

  panels.forEach((p) => {
    const [x0, x1, y0, y1] = p.ext;
    const g = grid.length;
    grid.push({ left: p.crop[0] + x0 / 3, top: p.crop[1] + y0 / 3, width: (x1 - x0) / 3, height: (y1 - y0) / 3, containLabel: false });
    xAxis.push({ type: "value", gridIndex: g, min: x0, max: x1, show: false });
    yAxis.push({ type: "value", gridIndex: g, min: y0, max: y1, inverse: true, show: false });
    const base = { type: "custom", coordinateSystem: "cartesian2d", xAxisIndex: g, yAxisIndex: g, silent: true, animation: false };

    series.push({
      ...base, z: 2, clip: true,
      data: p.bands.map((b) => [b[1][0], b[1][1]]),
      renderItem: (params: any, api: any) => ({
        type: "path",
        shape: { pathData: splinePath(chain(p.bands[params.dataIndex][1], api), true) },
        style: { fill: p.palette[p.bands[params.dataIndex][0]], stroke: "#5f5f6f", lineWidth: 0.45 },
      }),
    });
    series.push({
      ...base, z: 3, clip: true,
      data: [[x0, y0]],
      renderItem: (_: any, api: any) => {
        const a = api.coord([x0, y0]);
        const b = api.coord([x1, y1]);
        const hole = chain(scalloped(p.domain), api);
        let area = 0;
        hole.forEach((q, i) => {
          const r = hole[(i + 1) % hole.length];
          area += q[0] * r[1] - r[0] * q[1];
        });
        if (area > 0) hole.reverse();
        const d =
          `M${a[0]} ${a[1]}L${b[0]} ${a[1]}L${b[0]} ${b[1]}L${a[0]} ${b[1]}Z` +
          "M" + hole.map((q) => `${q[0]} ${q[1]}`).join("L") + "Z";
        return { type: "path", shape: { pathData: d }, style: { fill: "#ffffff", stroke: "none" } };
      },
    });
    series.push({
      ...base, z: 4, clip: true,
      data: p.lines.map((l) => [l[0], l[1]]),
      renderItem: (params: any, api: any) => ({
        type: "path",
        shape: { pathData: splinePath(chain(p.lines[params.dataIndex], api), false) },
        style: { fill: "none", stroke: "#808080", lineWidth: 0.6 },
      }),
    });
    series.push({
      ...base, z: 5, clip: true,
      data: p.labels.map((l) => [l[1], l[2]]),
      renderItem: (params: any, api: any) => {
        const l = p.labels[params.dataIndex];
        const c = api.coord([l[1], l[2]]);
        return {
          type: "text", x: c[0], y: c[1], rotation: (-l[3] * Math.PI) / 180,
          style: { text: l[0], fontSize: 6, fontFamily: "Liberation Sans", fill: "#3a3a3a", align: "center", verticalAlign: "middle" },
        };
      },
    });
    series.push({
      type: "scatter", xAxisIndex: g, yAxisIndex: g, z: 6, silent: true, animation: false,
      symbol: "circle", symbolSize: 3.6, itemStyle: { color: "#000" },
      data: wellNames.map((n, i) => ({ name: n, value: [p.wells[i * 2], p.wells[i * 2 + 1]] })),
      label: {
        show: true, position: "right", distance: 2.5, formatter: "{b}", fontSize: 7, fontFamily: "Liberation Sans",
        color: "#ff1010", textBorderColor: "#ffffff", textBorderWidth: 0.7,
      },
    });
    series.push({
      ...base, z: 7, clip: false,
      data: [[x0, y0]],
      renderItem: (_: any, api: any) => {
        const a = api.coord([x0, y0]);
        const b = api.coord([x1, y1]);
        return {
          type: "rect",
          shape: { x: a[0], y: a[1], width: b[0] - a[0], height: b[1] - a[1] },
          style: { fill: "none", stroke: "#3c3c3c", lineWidth: 1.5 },
        };
      },
    });

    const lg = grid.length;
    const n = p.legend.length;
    const colors = p.palette.slice(1).reverse();
    grid.push({ left: p.bar[0], top: p.bar[1], width: p.bar[2], height: p.bar[3], containLabel: false });
    xAxis.push({ type: "value", gridIndex: lg, min: 0, max: 1, show: false });
    yAxis.push({
      type: "value", gridIndex: lg, min: 0, max: n, interval: 1, inverse: true, position: "right",
      axisLine: { show: false }, axisTick: { show: false }, splitLine: { show: false },
      axisLabel: {
        margin: 3, fontSize: 13, fontFamily: "Liberation Sans", color: "#222",
        formatter: (v: number) => (v === 0 ? "" : p.legend[v - 1]),
      },
    });
    series.push({
      type: "custom", coordinateSystem: "cartesian2d", xAxisIndex: lg, yAxisIndex: lg, silent: true, z: 2,
      data: p.legend.map((_, i) => [0, i]),
      renderItem: (params: any, api: any) => {
        const i = params.dataIndex;
        const a = api.coord([0, i]);
        const b = api.coord([1, i + 1]);
        const fill = colors[i] || "#ffffff";
        return {
          type: "rect",
          shape: { x: a[0], y: a[1], width: b[0] - a[0], height: b[1] - a[1] },
          style: { fill, stroke: colors[i] ? "rgba(40,40,90,0.35)" : "#a8a8a8", lineWidth: 1 },
        };
      },
    });

    graphic.push({
      type: "text", x: p.titleAt[0], y: p.titleAt[1], silent: true,
      style: { text: p.title, rich, fontFamily: "Liberation Serif", fontWeight: "bold", fontSize: 20, fill: "#111" },
    });
    graphic.push({
      type: "text", x: p.subAt[0], y: p.subAt[1], silent: true,
      style: { text: "об. частка, %", fontFamily: "Liberation Serif", fontWeight: "bold", fontSize: 17.5, fill: "#111" },
    });
  });

  return { animation: false, backgroundColor: "#ffffff", grid, xAxis, yAxis, series, graphic };
}

export default function App() {
  const ref = useRef<HTMLDivElement>(null);
  useEffect(() => {
    if (!ref.current) return;
    const chart = echarts.init(ref.current, undefined, { renderer: "svg" });
    chart.setOption(buildOption() as any);
    return () => chart.dispose();
  }, []);
  return <div ref={ref} style={{ position: "absolute", left: 0, top: 0, width: 1273, height: 912 }} />;
}
